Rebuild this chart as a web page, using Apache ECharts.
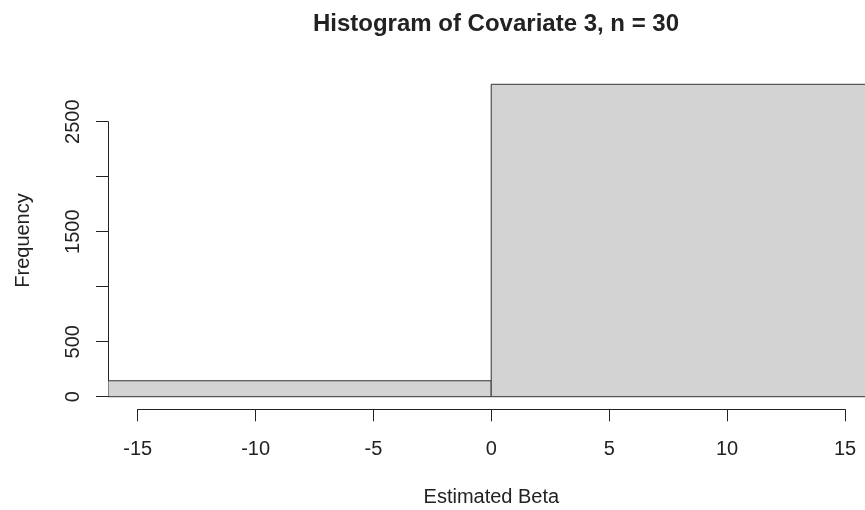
<!DOCTYPE html>
<html>
<head>
<meta charset="utf-8">
<script src="https://cdn.jsdelivr.net/npm/echarts@6/dist/echarts.min.js"></script>
<style>
  html, body { margin: 0; padding: 0; background: #fff; }
  #chart { width: 865px; height: 510px; }
</style>
</head>
<body>
<div id="chart"></div>
<script>
// histogram bins (estimated beta) and counts
const binStart = [-16.25, 0]
const binEnd = [0, 16.25]
const counts = [145, 2840]
const xTicks = [-15, -10, -5, 0, 5, 10, 15]
const yTicks = [0, 500, 1000, 1500, 2000, 2500]
const yShown = ['0', '500', '1500', '2500'] // R drops the overlapping ones

const font = '"Liberation Sans", Arial, sans-serif'
const ink = '#222'

const chart = echarts.init(document.getElementById('chart'))

chart.setOption({
  animation: false,
  title: {
    text: 'Histogram of Covariate 3, n = 30',
    left: 491,
    top: 7,
    textAlign: 'center',
    textStyle: { fontFamily: font, fontSize: 24, fontWeight: 'bold', color: ink }
  },
  grid: [
    // plot region (bars)
    { left: 108, right: 0, top: 71.8, bottom: 100.8 },
    // x axis, drawn only from first to last tick like R
    { left: 137.7, right: 20, top: 400, bottom: 100.7 },
    // y axis, 0..2500
    { left: 108, width: 10, top: 121.7, bottom: 113.3 }
  ],
  xAxis: [
    {
      gridIndex: 0,
      type: 'value',
      min: -16.25,
      max: 15.85,
      show: false
    },
    {
      gridIndex: 1,
      type: 'value',
      min: xTicks[0],
      max: xTicks[xTicks.length - 1],
      interval: 5,
      position: 'bottom',
      name: 'Estimated Beta',
      nameLocation: 'middle',
      nameGap: 78,
      nameTextStyle: { fontFamily: font, fontSize: 20, color: ink },
      axisLine: { show: true, lineStyle: { color: ink, width: 1 } },
      axisTick: { show: true, length: 12, lineStyle: { color: ink, width: 1 } },
      axisLabel: { margin: 30, fontFamily: font, fontSize: 20, color: ink },
      splitLine: { show: false }
    },
    {
      gridIndex: 2,
      type: 'value',
      show: false
    }
  ],
  yAxis: [
    {
      gridIndex: 0,
      type: 'value',
      min: -113.6,
      max: 2953.6,
      name: 'Frequency',
      nameLocation: 'middle',
      nameGap: 75,
      nameTextStyle: { fontFamily: font, fontSize: 20, color: ink },
      axisLine: { show: false },
      axisTick: { show: false },
      axisLabel: { show: false },
      splitLine: { show: false }
    },
    {
      gridIndex: 1,
      type: 'value',
      show: false
    },
    {
      gridIndex: 2,
      type: 'value',
      min: yTicks[0],
      max: yTicks[yTicks.length - 1],
      interval: 500,
      axisLine: { show: true, lineStyle: { color: ink, width: 1 } },
      axisTick: { show: true, length: 12, lineStyle: { color: ink, width: 1 } },
      axisLabel: {
        rotate: 90,
        margin: 25,
        fontFamily: font,
        fontSize: 20,
        color: ink,
        formatter: v => (yShown.includes(String(v)) ? String(v) : '')
      },
      splitLine: { show: false }
    }
  ],
  series: [
    {
      type: 'custom',
      xAxisIndex: 0,
      yAxisIndex: 0,
      clip: true,
      data: counts.map((c, i) => [binStart[i], binEnd[i], c]),
      encode: { x: [0, 1], y: 2 },
      renderItem: (params, api) => {
        const p0 = api.coord([api.value(0), api.value(2)])
        const p1 = api.coord([api.value(1), 0])
        return {
          type: 'rect',
          shape: { x: p0[0], y: p0[1], width: p1[0] - p0[0], height: p1[1] - p0[1] },
          style: { fill: '#d3d3d3', stroke: '#333', lineWidth: 1 }
        }
      }
    }
  ]
})
</script>
</body>
</html>
